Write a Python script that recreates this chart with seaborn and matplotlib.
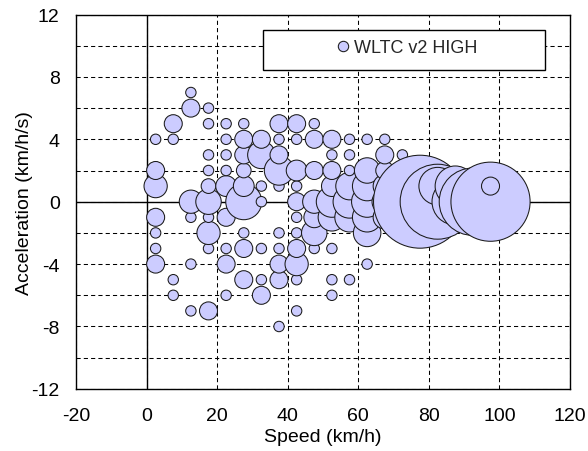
import numpy as np
import pandas as pd
import matplotlib
matplotlib.use("Agg")
import matplotlib.pyplot as plt
import seaborn as sns
from matplotlib.lines import Line2D
from matplotlib.patches import Rectangle

# ---- data (speed bin centre km/h, acceleration km/h/s, occurrence count) ----
speed = (
    [2.5] * 7 + [7.5] * 4 + [12.5] * 6 + [17.5] * 10 + [22.5] * 9 + [27.5] * 9 +
    [32.5] * 7 + [37.5] * 10 + [42.5] * 11 + [47.5] * 7 + [52.5] * 9 + [57.5] * 7 +
    [62.5] * 7 + [67.5] * 6 + [72.5] * 5 + [77.5] * 1 + [82.5] * 2 + [87.5] * 2 +
    [92.5] * 2 + [97.5] * 2
)
accel = [
    -4, -3, -2, -1, 1, 2, 4,
    -6, -5, 4, 5,
    -7, -4, -1, 0, 6, 7,
    -7, -3, -2, -1, 0, 1, 2, 3, 5, 6,
    -6, -4, -3, -1, 1, 2, 3, 4, 5,
    -5, -3, -2, 0, 1, 2, 3, 4, 5,
    -6, -5, -3, 0, 1, 3, 4,
    -8, -5, -4, -3, -2, 1, 2, 3, 4, 5,
    -7, -5, -4, -3, -2, -1, 0, 1, 2, 4, 5,
    -3, -2, -1, 0, 2, 4, 5,
    -6, -5, -3, -1, 0, 1, 2, 3, 4,
    -5, -1, 0, 1, 2, 3, 4,
    -4, -2, -1, 0, 1, 2, 4,
    -1, 0, 1, 2, 3, 4,
    -1, 0, 1, 2, 3,
    0,
    0, 1,
    0, 1,
    0, 1,
    0, 1,
]
count = [
    3, 1, 1, 3, 5, 3, 1,
    1, 1, 1, 3,
    1, 1, 1, 5, 3, 1,
    3, 1, 5, 1, 6, 2, 1, 1, 1, 1,
    1, 3, 1, 3, 4, 1, 1, 1, 1,
    3, 3, 1, 12, 4, 2, 3, 3, 1,
    3, 1, 1, 1, 1, 7, 3,
    1, 3, 3, 1, 1, 1, 8, 3, 1, 3,
    1, 1, 5, 3, 1, 1, 3, 1, 4, 1, 3,
    1, 6, 4, 5, 3, 3, 1,
    1, 1, 1, 7, 9, 4, 3, 1, 3,
    1, 8, 10, 7, 1, 1, 1,
    1, 7, 8, 9, 8, 6, 1,
    5, 6, 5, 3, 3, 1,
    3, 5, 4, 3, 1,
    80,
    52, 13,
    20, 15,
    42, 8,
    58, 3,
]

x_ticks = [-20, 0, 20, 40, 60, 80, 100, 120]
y_ticks = [-12, -8, -4, 0, 4, 8, 12]
y_grid = list(range(-12, 13, 2))
series_label = "WLTC v2 HIGH"
x_label = "Speed (km/h)"
y_label = "Acceleration (km/h/s)"

fill = "#CCCCFF"
edge = "#1a1a1a"
unit_area = 56.0  # marker area (pt^2) for a count of 1

# ---- style ----
sns.set_style("white")
plt.rcParams["font.family"] = ["Liberation Sans", "DejaVu Sans"]
plt.rcParams["axes.unicode_minus"] = False

df = pd.DataFrame({"speed": speed, "accel": accel, "count": count})

fig = plt.figure(figsize=(5.88, 4.52), dpi=100)
ax = fig.add_axes([0.1298, 0.1374, 0.8393, 0.8283])

cmin, cmax = min(count), max(count)
sns.scatterplot(
    data=df, x="speed", y="accel", size="count",
    sizes=(unit_area * cmin, unit_area * cmax), size_norm=(cmin, cmax),
    color=fill, edgecolor=edge, linewidth=0.75, alpha=1.0,
    legend=False, ax=ax, zorder=3,
)

ax.set_xlim(-20, 120)
ax.set_ylim(-12, 12)
ax.set_xticks(x_ticks)
ax.set_yticks(y_ticks)
ax.set_yticks(y_grid, minor=True)
ax.set_axisbelow(True)
dash = (0, (4, 3))
ax.grid(True, which="major", axis="x", color="black", linestyle=dash, linewidth=0.75)
ax.grid(True, which="both", axis="y", color="black", linestyle=dash, linewidth=0.75)
ax.axhline(0, color="black", linewidth=1.0, zorder=1.5)
ax.axvline(0, color="black", linewidth=1.0, zorder=1.5)

ax.tick_params(which="both", length=0)
ax.tick_params(axis="x", pad=13, labelsize=14, colors="black")
ax.tick_params(axis="y", pad=12, labelsize=14, colors="black")

for s in ax.spines.values():
    s.set_color("black")
    s.set_linewidth(1.0)

ax.set_xlabel(x_label, fontsize=14, color="black")
ax.set_ylabel(y_label, fontsize=14, color="black")
ax.xaxis.label.set_verticalalignment("center")
ax.yaxis.label.set_verticalalignment("center")
ax.xaxis.set_label_coords(0.5, -0.128)
ax.yaxis.set_label_coords(-0.106, 0.5)

# ---- legend: white framed box with centred entry ----
box = Rectangle((0.378, 0.852), 0.572, 0.1066, transform=ax.transAxes,
                facecolor="white", edgecolor="black", linewidth=1.0, zorder=4)
ax.add_patch(box)
handle = Line2D([], [], marker="o", linestyle="none", markersize=np.sqrt(unit_area),
                markerfacecolor=fill, markeredgecolor=edge, markeredgewidth=0.75)
leg = ax.legend([handle], [series_label], loc="center", bbox_to_anchor=(0.669, 0.911),
                bbox_transform=ax.transAxes, frameon=False, fontsize=13,
                handlelength=0.8, handletextpad=0.22, borderpad=0, borderaxespad=0)
leg.set_zorder(5)

fig.savefig("out.png", dpi=100)
